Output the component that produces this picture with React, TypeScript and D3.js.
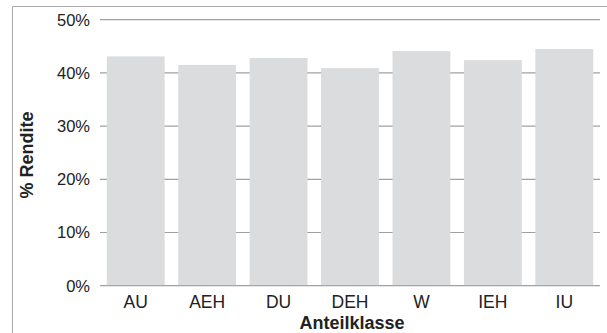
import { useEffect, useRef } from 'react';
import * as d3 from 'd3';

const categories = ['AU', 'AEH', 'DU', 'DEH', 'W', 'IEH', 'IU'];
const renditeValues = [0.431, 0.415, 0.428, 0.409, 0.441, 0.424, 0.445];
const yTicks = [0, 0.1, 0.2, 0.3, 0.4, 0.5];

const WIDTH = 607;
const HEIGHT = 333;

export default function App() {
  const svgRef = useRef<SVGSVGElement>(null);

  useEffect(() => {
    if (!svgRef.current) return;
    const svg = d3.select(svgRef.current);
    svg.selectAll('*').remove();

    const font = '"Liberation Sans", Arial, Helvetica, sans-serif';

    const x = d3
      .scaleBand<string>()
      .domain(categories)
      .range([100, 600])
      .paddingInner(0.19)
      .paddingOuter(0.095);

    const y = d3.scaleLinear().domain([0, 0.5]).range([285.7, 19.7]);

    // frame (top + left only)
    svg
      .append('path')
      .attr('d', `M12.5,${HEIGHT} V6.5 H${WIDTH}`)
      .attr('fill', 'none')
      .attr('stroke', '#a9a9a9')
      .attr('stroke-width', 1);

    // gridlines
    svg
      .append('g')
      .selectAll('line')
      .data(yTicks)
      .enter()
      .append('line')
      .attr('x1', 100)
      .attr('x2', 600)
      .attr('y1', (d) => y(d))
      .attr('y2', (d) => y(d))
      .attr('stroke', '#a0a0a0')
      .attr('stroke-width', 1.2);

    // tick labels
    svg
      .append('g')
      .selectAll('text')
      .data(yTicks)
      .enter()
      .append('text')
      .attr('x', 90)
      .attr('y', (d) => y(d))
      .attr('dy', '0.36em')
      .attr('text-anchor', 'end')
      .attr('font-family', font)
      .attr('font-size', 16.5)
      .attr('fill', '#222')
      .text((d) => d3.format('.0%')(d));

    // bars
    svg
      .append('g')
      .selectAll('rect')
      .data(renditeValues)
      .enter()
      .append('rect')
      .attr('x', (_, i) => x(categories[i])!)
      .attr('width', x.bandwidth())
      .attr('y', (d) => y(d))
      .attr('height', (d) => y(0) - y(d) - 0.6)
      .attr('fill', '#dbdcdd');

    // category labels
    svg
      .append('g')
      .selectAll('text')
      .data(categories)
      .enter()
      .append('text')
      .attr('x', (d) => x(d)! + x.bandwidth() / 2)
      .attr('y', 308)
      .attr('text-anchor', 'middle')
      .attr('font-family', font)
      .attr('font-size', 17.5)
      .attr('fill', '#222')
      .text((d) => d);

    // axis titles
    svg
      .append('text')
      .attr('x', 352)
      .attr('y', 329)
      .attr('text-anchor', 'middle')
      .attr('font-family', font)
      .attr('font-size', 18)
      .attr('font-weight', 'bold')
      .attr('fill', '#222')
      .text('Anteilklasse');

    svg
      .append('text')
      .attr('transform', 'translate(33,155) rotate(-90)')
      .attr('text-anchor', 'middle')
      .attr('font-family', font)
      .attr('font-size', 18)
      .attr('font-weight', 'bold')
      .attr('fill', '#222')
      .text('% Rendite');
  }, []);

  return (
    <svg
      ref={svgRef}
      width={WIDTH}
      height={HEIGHT}
      style={{ position: 'absolute', left: 0, top: 0, background: '#fff' }}
    />
  );
}
